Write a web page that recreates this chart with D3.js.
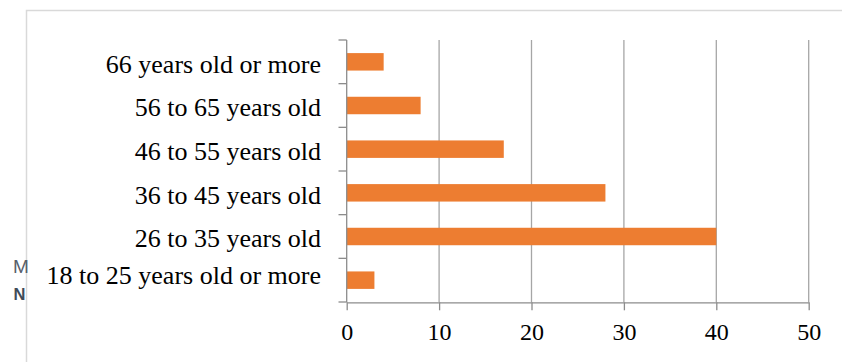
<!DOCTYPE html>
<html><head><meta charset="utf-8">
<script src="https://cdn.jsdelivr.net/npm/d3@7"></script>
<style>html,body{margin:0;padding:0;background:#fff;}svg{display:block;}</style>
</head><body>
<svg id="c" width="842" height="362"></svg>
<script>
const categories = ["66 years old or more","56 to 65 years old","46 to 55 years old","36 to 45 years old","26 to 35 years old","18 to 25 years old or more"];
const values = [4, 8, 17, 28, 40, 3];
const xTicks = [0, 10, 20, 30, 40, 50];
const sideLetters = ["M", "N"];

const svg = d3.select("#c");
// outer frame (cut off at right/bottom)
svg.append("rect").attr("x", 26.5).attr("y", 10.5).attr("width", 900).attr("height", 500)
  .attr("fill", "none").attr("stroke", "#d9d9d9").attr("stroke-width", 1.5);

const x = d3.scaleLinear().domain([0, 50]).range([346.7, 808.7]);
const y = d3.scaleBand().domain(categories).range([40, 302]).paddingInner(0.6).paddingOuter(0.3);

// gridlines
svg.append("g").selectAll("line").data(xTicks.filter(d => d > 0)).join("line")
  .attr("x1", d => x(d)).attr("x2", d => x(d)).attr("y1", 40).attr("y2", 302)
  .attr("stroke", "#a6a6a6").attr("stroke-width", 1.3);

// bars
svg.append("g").selectAll("rect").data(values).join("rect")
  .attr("x", x(0)).attr("y", (d, i) => y(categories[i]))
  .attr("width", d => x(d) - x(0)).attr("height", y.bandwidth())
  .attr("fill", "#ED7D31");

// x axis
const xa = svg.append("g").attr("transform", "translate(0,302.3)")
  .call(d3.axisBottom(x).tickValues(xTicks).tickSize(8).tickPadding(13).tickSizeOuter(0));
xa.select(".domain").attr("stroke", "#8c8c8c").attr("stroke-width", 1.3);
xa.selectAll(".tick line").attr("stroke", "#8c8c8c").attr("stroke-width", 1.3);
xa.selectAll("text").attr("font-family", "'Liberation Serif','Times New Roman',serif")
  .attr("font-size", 24).attr("fill", "#000");

// y axis: line + boundary ticks
const boundaries = d3.range(categories.length + 1).map(i => 40 + i * (262 / categories.length));
svg.append("line").attr("x1", x(0)).attr("x2", x(0)).attr("y1", 40).attr("y2", 302.3)
  .attr("stroke", "#8c8c8c").attr("stroke-width", 1.3);
svg.append("g").selectAll("line").data(boundaries).join("line")
  .attr("x1", 338.5).attr("x2", x(0)).attr("y1", d => d).attr("y2", d => d)
  .attr("stroke", "#8c8c8c").attr("stroke-width", 1.3);

// category labels (last label sits slightly higher in the original)
svg.append("g").selectAll("text").data(categories).join("text")
  .attr("x", 321)
  .attr("y", (d, i) => y(d) + y.bandwidth() / 2 + (i === categories.length - 1 ? 3.5 : 10.8))
  .attr("text-anchor", "end")
  .attr("font-family", "'Liberation Serif','Times New Roman',serif")
  .attr("font-size", 26).attr("fill", "#000")
  .text(d => d);

// side letters
svg.append("text").attr("x", 13).attr("y", 273).attr("font-family", "'Liberation Sans',Arial,sans-serif")
  .attr("font-size", 19).attr("fill", "#56606b").text(sideLetters[0]);
svg.append("text").attr("x", 13.5).attr("y", 300).attr("font-family", "'Liberation Sans',Arial,sans-serif")
  .attr("font-size", 16.5).attr("font-weight", "bold").attr("fill", "#3f4b59").text(sideLetters[1]);
</script>
</body></html>
